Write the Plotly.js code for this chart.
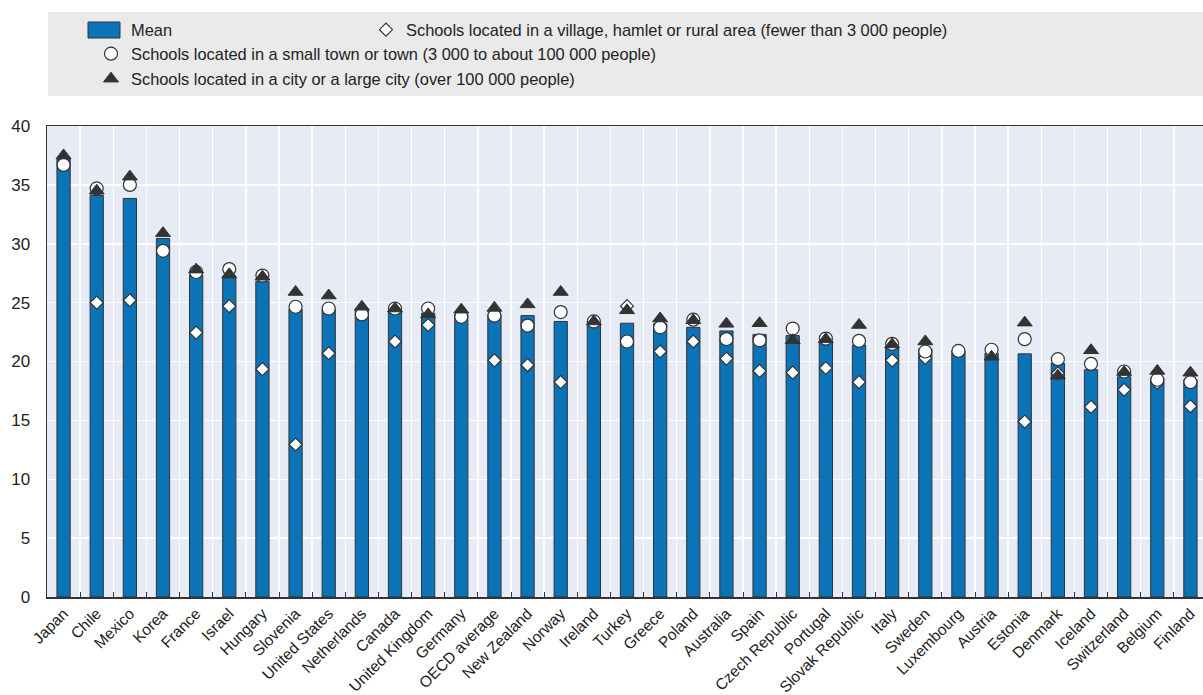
<!DOCTYPE html>
<html>
<head>
<meta charset="utf-8">
<script src="https://cdn.plot.ly/plotly-3.0.1.min.js"></script>
<style>
html,body{margin:0;padding:0;overflow:hidden;background:#fff;}
#chart{width:1207px;height:695px;}
</style>
</head>
<body>
<div id="chart"></div>
<script>
const countries = ["Japan","Chile","Mexico","Korea","France","Israel","Hungary","Slovenia","United States","Netherlands","Canada","United Kingdom","Germany","OECD average","New Zealand","Norway","Ireland","Turkey","Greece","Poland","Australia","Spain","Czech Republic","Portugal","Slovak Republic","Italy","Sweden","Luxembourg","Austria","Estonia","Denmark","Iceland","Switzerland","Belgium","Finland"];

const meanValues = [37.2,34.1,33.85,30.45,27.35,27.1,26.8,24.45,24.45,24.35,24.3,24.1,24.0,23.95,23.9,23.4,23.3,23.25,23.2,22.9,22.6,22.3,22.2,21.7,21.4,21.1,21.05,20.9,20.7,20.65,19.85,19.3,18.7,18.6,18.45];

const ruralValues = [null,25.0,25.2,null,22.45,24.7,19.35,12.95,20.7,null,21.7,23.1,null,20.1,19.7,18.25,null,24.7,20.85,21.7,20.25,19.2,19.05,19.45,18.25,20.1,20.3,null,null,14.9,19.0,16.15,17.6,18.2,16.2];

const townValues = [36.7,34.7,35.0,29.4,27.6,27.85,27.3,24.65,24.5,24.0,24.5,24.5,23.8,23.9,23.05,24.2,23.4,21.7,22.9,23.55,21.9,21.8,22.8,21.95,21.75,21.5,20.85,20.9,21.0,21.9,20.2,19.8,19.15,18.45,18.25];

const cityValues = [37.5,34.5,35.7,30.9,27.8,27.4,27.2,25.9,25.6,24.65,24.5,24.0,24.4,24.55,24.85,25.9,23.4,24.35,23.65,23.5,23.2,23.25,21.8,21.9,23.1,21.45,21.7,null,20.4,23.3,18.8,20.95,19.1,19.2,19.05];

const seriesNames = {
  mean: "Mean",
  rural: "Schools located in a village, hamlet or rural area (fewer than 3 000 people)",
  town: "Schools located in a small town or town (3 000 to about 100 000 people)",
  city: "Schools located in a city or a large city (over 100 000 people)"
};

const FONT = "'Liberation Sans Narrow', 'Arial Narrow', 'Liberation Sans', Arial, sans-serif";
const DARK = "#333333";
const BLUE = "#0b74b9";

// pixel helpers for legend placement (plot area: left 47, right 1207, top 126, bottom 597)
const L = 47, R = 1207, T = 126, B = 597;
const px = x => (x - L) / (R - L);
const py = y => (B - y) / (B - T);

const traces = [
  {
    type: "bar", x: countries, y: meanValues, name: seriesNames.mean,
    width: 0.4, marker: {color: BLUE, line: {color: DARK, width: 1}},
    showlegend: false
  },
  {
    type: "scatter", mode: "markers", x: countries, y: ruralValues, name: seriesNames.rural,
    marker: {symbol: "diamond", size: 10, color: "#ffffff", line: {color: DARK, width: 1.2}},
    legend: "legend4", cliponaxis: false
  },
  {
    type: "scatter", mode: "markers", x: countries, y: townValues, name: seriesNames.town,
    marker: {symbol: "circle", size: 13, color: "#ffffff", line: {color: DARK, width: 1.2}},
    legend: "legend2", cliponaxis: false
  },
  {
    type: "scatter", mode: "markers", x: countries, y: cityValues, name: seriesNames.city,
    marker: {symbol: "triangle-up", size: 13, color: DARK, line: {color: DARK, width: 1}},
    legend: "legend3", cliponaxis: false
  }
];

const legendCommon = {
  orientation: "v", bgcolor: "rgba(0,0,0,0)", borderwidth: 0,
  font: {family: FONT, size: 16.4, color: "#222"},
  xanchor: "left", yanchor: "middle", itemclick: false
};

const layout = {
  width: 1207, height: 695,
  margin: {l: L, r: 0, t: T, b: 695 - B, pad: 0},
  paper_bgcolor: "#ffffff",
  plot_bgcolor: "#e6ebf5",
  font: {family: FONT, size: 16, color: "#222"},
  bargap: 0.6,
  xaxis: {
    type: "category",
    range: [-0.5, 34.5], autorange: false,
    tickson: "boundaries",
    ticks: "inside", ticklen: 5, tickwidth: 1, tickcolor: DARK,
    showgrid: true, gridcolor: "#ffffff", gridwidth: 1.5,
    showline: true, linecolor: DARK, linewidth: 1.5, mirror: true,
    tickangle: -45,
    tickfont: {family: FONT, size: 15.5, color: "#222"},
    automargin: false
  },
  yaxis: {
    range: [0, 40], autorange: false, dtick: 5,
    showgrid: true, gridcolor: "#ffffff", gridwidth: 1.5,
    showline: true, linecolor: DARK, linewidth: 1.5,
    zeroline: false, ticks: "",
    ticklabelstandoff: 12,
    tickfont: {family: FONT, size: 17, color: "#222"},
    automargin: false
  },
  showlegend: true,
  legend2: Object.assign({}, legendCommon, {x: px(91), y: py(54)}),
  legend3: Object.assign({}, legendCommon, {x: px(91), y: py(79)}),
  legend4: Object.assign({}, legendCommon, {x: px(366), y: py(30)}),
  legend: Object.assign({}, legendCommon, {x: px(1300), y: py(30), visible: false}),
  shapes: [
    {type: "rect", xref: "paper", yref: "paper", x0: px(48), x1: 1.01, y0: py(96), y1: py(12),
     fillcolor: "#eaeaea", line: {width: 0}, layer: "below"},
    {type: "rect", xref: "paper", yref: "paper", x0: px(88), x1: px(120), y0: py(38), y1: py(22),
     fillcolor: BLUE, line: {color: DARK, width: 1}}
  ],
  annotations: [
    {xref: "paper", yref: "paper", x: px(129), y: py(30), xanchor: "left", yanchor: "middle",
     text: seriesNames.mean, showarrow: false, font: {family: FONT, size: 16.4, color: "#222"}}
  ]
};

Plotly.newPlot("chart", traces, layout, {staticPlot: true, displayModeBar: false});
</script>
</body>
</html>
